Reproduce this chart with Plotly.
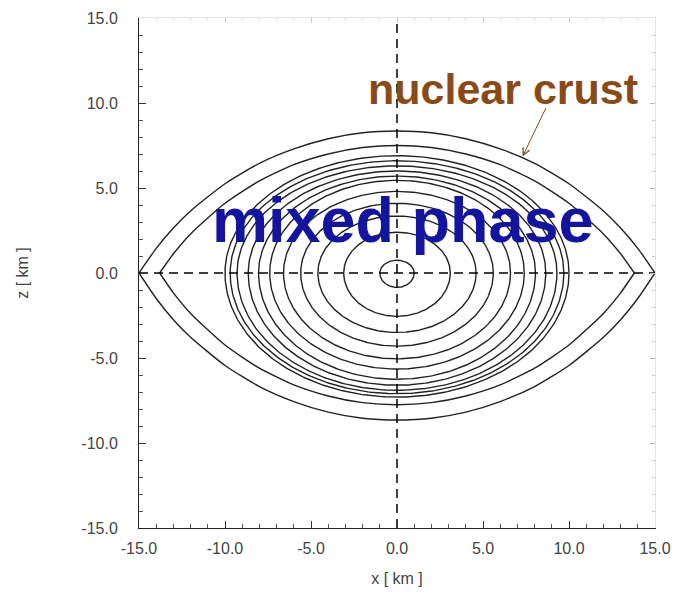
import numpy as np
import plotly.graph_objects as go

# Closed (elliptical) density contours in the meridional plane [km]
ring_half_width = [1.0, 3.1, 4.6, 5.6, 6.6, 7.4, 8.05, 8.65, 9.3, 9.7, 10.0]
ring_top = [0.75, 2.4, 3.35, 4.1, 4.8, 5.45, 5.7, 6.0, 6.3, 6.6, 6.9]
ring_bottom = [0.85, 2.55, 3.5, 4.3, 5.05, 5.65, 6.25, 6.6, 6.9, 7.1, 7.3]

# Lens-shaped boundaries of the nuclear crust: upper-right quarter (x, z) [km]
outer_lens_x = [0.0, 2.0, 4.0, 6.0, 8.0, 10.0, 12.0, 13.0, 14.0, 15.0]
outer_lens_z = [8.35, 8.25, 7.9, 7.3, 6.45, 5.25, 3.65, 2.65, 1.45, 0.0]
outer_lens_bottom = 8.65
inner_lens_x = [0.0, 2.0, 4.0, 6.0, 8.0, 10.0, 12.0, 13.0, 13.8]
inner_lens_z = [7.5, 7.38, 7.0, 6.37, 5.42, 4.1, 2.3, 1.13, 0.0]
inner_lens_bottom = 7.75

tick_vals = [-15, -10, -5, 0, 5, 10, 15]
tick_text = ["-15.0", "-10.0", "-5.0", "0.0", "5.0", "10.0", "15.0"]

LINE = "#222222"
FONT = "Liberation Sans, Arial"
fig = go.Figure()

# elliptical contours
t = np.linspace(0, 2 * np.pi, 361)
for a, bt, bb in zip(ring_half_width, ring_top, ring_bottom):
    s = np.sin(t)
    z = np.where(s >= 0, bt * s, bb * s)
    fig.add_trace(go.Scatter(x=a * np.cos(t), y=z, mode="lines",
                             line=dict(color=LINE, width=1.4),
                             hoverinfo="skip", showlegend=False))

# lens contours, upper and lower halves drawn separately to keep the cusps
for lx, lz, bottom in [(outer_lens_x, outer_lens_z, outer_lens_bottom),
                       (inner_lens_x, inner_lens_z, inner_lens_bottom)]:
    xs = [-v for v in lx[::-1]] + lx[1:]
    zs = lz[::-1] + lz[1:]
    ratio = bottom / lz[0]
    for sign, k in [(1, 1.0), (-1, ratio)]:
        fig.add_trace(go.Scatter(x=xs, y=[sign * k * v for v in zs], mode="lines",
                                 line=dict(color=LINE, width=1.4, shape="spline", smoothing=0.6),
                                 hoverinfo="skip", showlegend=False))

# dashed axes through the origin
for xs, ys in [([-15, 15], [0, 0]), ([0, 0], [-15, 15])]:
    fig.add_trace(go.Scatter(x=xs, y=ys, mode="lines",
                             line=dict(color="black", width=1.5, dash="9px,6px"),
                             hoverinfo="skip", showlegend=False))

axis_common = dict(range=[-15, 15], tickvals=tick_vals, ticktext=tick_text,
                   ticks="inside", ticklen=7, tickcolor="#333", tickwidth=1,
                   minor=dict(dtick=1, ticks="inside", ticklen=4, tickcolor="#555"),
                   showgrid=False, zeroline=False, showline=True,
                   linecolor="#222", linewidth=1, automargin=False,
                   tickfont=dict(family=FONT, size=16, color="#444"))

fig.update_layout(
    width=681, height=594,
    margin=dict(l=139, r=26, t=18, b=66),
    paper_bgcolor="white", plot_bgcolor="white",
    xaxis=dict(**axis_common, ticklabelstandoff=6,
               title=dict(text="x [ km ]", standoff=16,
                          font=dict(family=FONT, size=16, color="#444"))),
    yaxis=dict(**axis_common, ticklabelstandoff=17,
               title=dict(text="z [ km ]", standoff=48,
                          font=dict(family=FONT, size=16, color="#444"))),
    xaxis2=dict(overlaying="x", side="top", range=[-15, 15], showticklabels=False,
                ticks="inside", ticklen=5, tickcolor="#ccc", dtick=5,
                minor=dict(dtick=1, ticks="inside", ticklen=3, tickcolor="#ddd"),
                showline=True, linecolor="#e2e2e2", showgrid=False, zeroline=False,
                automargin=False),
    yaxis2=dict(overlaying="y", side="right", range=[-15, 15], showticklabels=False,
                ticks="inside", ticklen=5, tickcolor="#bbb", dtick=5,
                minor=dict(dtick=1, ticks="inside", ticklen=3, tickcolor="#ccc"),
                showline=True, linecolor="#e2e2e2", showgrid=False, zeroline=False,
                automargin=False),
)
# invisible trace to activate the mirrored frame axes
fig.add_trace(go.Scatter(x=[None], y=[None], xaxis="x2", yaxis="y2",
                         showlegend=False, hoverinfo="skip"))

fig.add_annotation(x=0.35, y=3.1, text="<b>mixed phase</b>", showarrow=False,
                   font=dict(family=FONT, size=63, color="#14149e"),
                   xanchor="center", yanchor="middle")
fig.add_annotation(x=6.15, y=10.85, text="<b>nuclear crust</b>", showarrow=False,
                   font=dict(family=FONT, size=43, color="#8a4a17"),
                   xanchor="center", yanchor="middle")
fig.add_annotation(x=7.3, y=6.85, ax=8.7, ay=9.8, axref="x", ayref="y",
                   text="", showarrow=True, arrowhead=5, arrowsize=1.4,
                   arrowwidth=1, arrowcolor="#8a4a17")

fig.write_html("out.html")
